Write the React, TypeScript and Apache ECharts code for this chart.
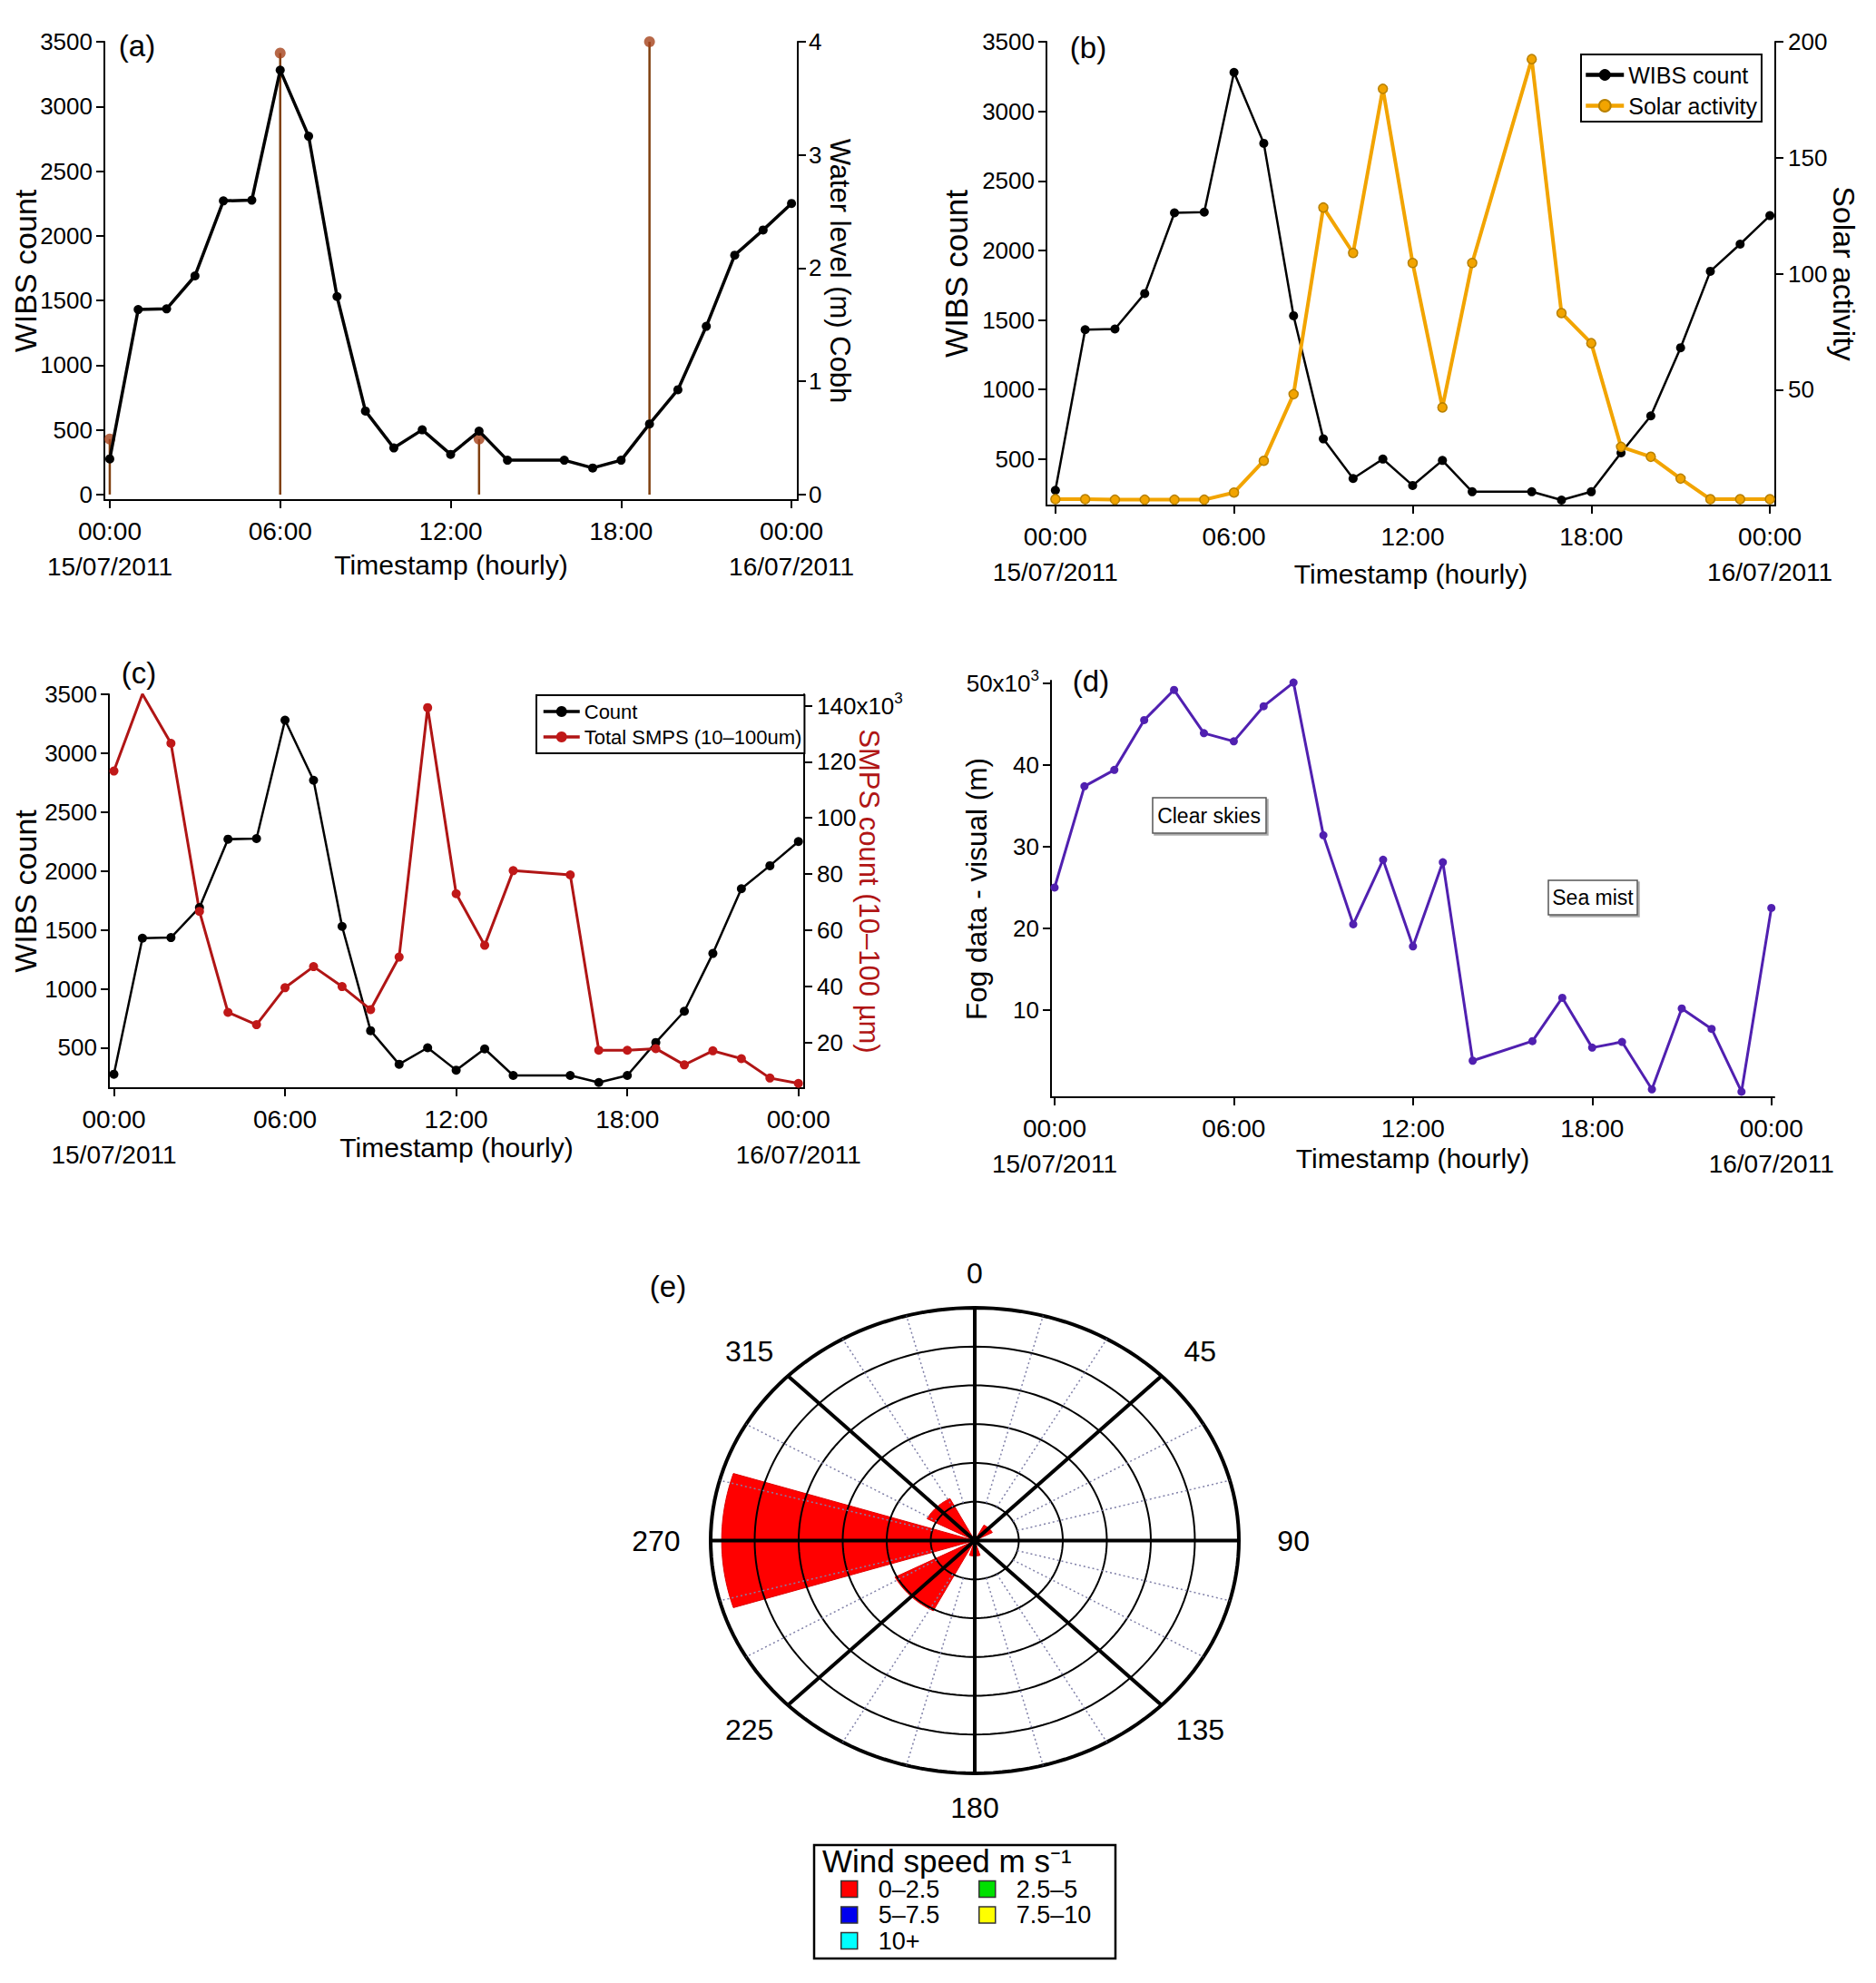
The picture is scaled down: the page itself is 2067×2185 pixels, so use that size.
import React, { useEffect, useRef } from "react";
import * as echarts from "echarts";

// hourly samples, 15/07/2011 00:00 -> 16/07/2011 00:00 (15:00 missing)
const HOURS = [0, 1, 2, 3, 4, 5, 6, 7, 8, 9, 10, 11, 12, 13, 14, 15, 16, 17, 18, 19, 20, 21, 22, 23, 24];
const X_TICKS = [0, 6, 12, 18, 24];
const X_TICK_LABELS = ["00:00\n15/07/2011", "06:00", "12:00", "18:00", "00:00\n16/07/2011"];

const WIBS_COUNT = [275, 1430, 1435, 1690, 2270, 2275, 3280, 2770, 1530, 645, 360, 500, 310, 490, 265, null, 265, 205, 265, 545, 810, 1300, 1850, 2045, 2250];
const WATER_HOURS = [0, 6, 13, 19];
const WATER_LEVEL = [0.49, 3.9, 0.49, 4.0];
const SOLAR = [2.7, 2.7, 2.5, 2.5, 2.5, 2.5, 5.6, 19.3, 48, 128.5, 108.9, 179.7, 104.6, 42.3, 104.6, null, 192.5, 83, 70, 25.3, 21, 11.6, 2.7, 2.7, 2.7];
const SMPS_K = [116.7, 144.1, 126.6, 66.7, 30.7, 26.3, 39.5, 47.0, 39.9, 31.7, 50.4, 139.3, 73.0, 54.6, 81.2, null, 79.7, 17.2, 17.2, 17.8, 12.0, 17.0, 14.2, 7.3, 5.4];
const FOG_K = [25.0, 37.4, 39.4, 45.5, 49.2, 43.9, 42.9, 47.2, 50.1, 31.4, 20.5, 28.4, 17.8, 28.1, 3.8, null, 6.2, 11.5, 5.4, 6.1, 0.3, 10.2, 7.7, 0.0, 22.5];

const WIBS_TICKS_A = [0, 500, 1000, 1500, 2000, 2500, 3000, 3500];
const WIBS_TICKS = [500, 1000, 1500, 2000, 2500, 3000, 3500];
const WATER_TICKS = [0, 1, 2, 3, 4];
const SOLAR_TICKS = [50, 100, 150, 200];
const SMPS_TICKS = [20, 40, 60, 80, 100, 120, 140];
const FOG_TICKS = [10, 20, 30, 40, 50];

// wind rose: direction (deg) and frequency (ring units)
const WIND_DIRS = [0, 45, 90, 135, 180, 225, 270, 315];
const WIND_0_25 = [0, 0.45, 0, 0, 0.4, 2.04, 5.75, 1.22];
const SPEED_BINS = ["0–2.5", "2.5–5", "5–7.5", "7.5–10", "10+"];
const SPEED_COLORS = ["#ff0000", "#00e000", "#0000ee", "#ffff00", "#00ffff"];
const RINGS = [1, 2, 3, 4, 5, 6];
const SPOKES = [0, 15, 30, 45, 60, 75, 90, 105, 120, 135, 150, 165, 180, 195, 210, 225, 240, 255, 270, 285, 300, 315, 330, 345];

const TICKF = "'Liberation Sans', Arial, sans-serif";
const REG = "'Liberation Sans', Arial, sans-serif";

const pairs = (xs: number[], ys: (number | null)[]) =>
  xs.map((x, i) => [x, ys[i]]).filter((p) => p[1] !== null);

const toXY = (deg: number, r: number) => [
  r * Math.sin((deg * Math.PI) / 180),
  r * Math.cos((deg * Math.PI) / 180),
];

const xAxisFor = (gridIndex: number, min: number, max: number, nameGap: number) => ({
  type: "value",
  gridIndex,
  min,
  max,
  axisLine: { show: true, onZero: false, lineStyle: { color: "#000", width: 2 } },
  axisTick: { show: true, length: 9, customValues: X_TICKS, lineStyle: { color: "#000", width: 2 } },
  axisLabel: {
    customValues: X_TICKS,
    formatter: (v: number) => X_TICK_LABELS[X_TICKS.indexOf(Math.round(v))],
    color: "#000",
    fontFamily: TICKF,
    fontSize: 28,
    lineHeight: 39,
    margin: 15,
  },
  splitLine: { show: false },
  name: "Timestamp (hourly)",
  nameLocation: "middle",
  nameGap,
  nameMoveOverlap: false,
  nameTextStyle: { fontFamily: REG, fontSize: 30, color: "#000" },
});

const yAxisFor = (
  gridIndex: number,
  position: string,
  min: number,
  max: number,
  ticks: number[],
  name: string,
  nameGap: number,
  nameStyle: any,
  label: any = {}
) => ({
  type: "value",
  gridIndex,
  position,
  min,
  max,
  axisLine: { show: true, onZero: false, lineStyle: { color: "#000", width: 2 } },
  axisTick: { show: true, length: 9, customValues: ticks, lineStyle: { color: "#000", width: 2 } },
  axisLabel: {
    customValues: ticks,
    formatter: (v: number) => String(v),
    color: "#000",
    fontFamily: TICKF,
    fontSize: 26,
    margin: 13,
    ...label,
  },
  splitLine: { show: false },
  name,
  nameLocation: "middle",
  nameGap,
  nameMoveOverlap: false,
  nameRotate: position === "right" ? -90 : 90,
  nameTextStyle: { fontFamily: REG, color: "#000", ...nameStyle },
});

const supLabel = (top: number) => ({
  formatter: (v: number) => (v === top ? `{b|${v}x10}{s|3}` : String(v)),
  rich: {
    b: { fontFamily: TICKF, fontSize: 26, color: "#000" },
    s: { fontFamily: TICKF, fontSize: 17, color: "#000", padding: [0, 0, 16, 0] },
  },
});

const App = () => {
  const chartRef = useRef<HTMLDivElement>(null);

  useEffect(() => {
    if (!chartRef.current) return;
    document.body.style.margin = "0";
    const chart = echarts.init(chartRef.current, null, { renderer: "svg" });

    const lineSeries = (name: string, xi: number, yi: number, data: any[], color: string, width: number, extra: any = {}) => ({
      name,
      type: "line",
      xAxisIndex: xi,
      yAxisIndex: yi,
      data,
      symbol: "circle",
      symbolSize: 10,
      lineStyle: { color, width },
      itemStyle: { color },
      z: 3,
      ...extra,
    });

    const petalSeries = SPEED_BINS.map((bin, k) => ({
      name: bin,
      type: "custom",
      xAxisIndex: 4,
      yAxisIndex: 7,
      itemStyle: { color: SPEED_COLORS[k] },
      z: 1,
      data: k === 0 ? WIND_DIRS.map((d, i) => [d, WIND_0_25[i]]) : [],
      renderItem: (params: any, api: any) => {
        const dir = api.value(0);
        const r = api.value(1);
        if (!r) return null;
        const pts = [api.coord([0, 0])];
        for (let d = dir - 17.5; d <= dir + 17.51; d += 1.75) pts.push(api.coord(toXY(d, r)));
        return {
          type: "polygon",
          shape: { points: pts },
          style: { fill: SPEED_COLORS[k], stroke: "#e00000", lineWidth: 1 },
        };
      },
    }));

    const windLegend = (data: string[], left: number) => ({
      data,
      orient: "vertical",
      left,
      top: 2068,
      padding: 0,
      icon: "rect",
      itemWidth: 18,
      itemHeight: 18,
      itemGap: 1.5,
      selectedMode: false,
      itemStyle: { borderColor: "#333", borderWidth: 1.5 },
      textStyle: { fontFamily: REG, fontSize: 27, color: "#000", padding: [0, 0, 0, 18] },
    });

    const option: any = {
      animation: false,
      textStyle: { fontFamily: REG },
      grid: [
        { left: 115, top: 46, width: 764, height: 505, outerBoundsMode: "none" },
        { left: 1153, top: 46, width: 803, height: 511, outerBoundsMode: "none" },
        { left: 120, top: 765, width: 766, height: 434, outerBoundsMode: "none" },
        { left: 1158, top: 750, width: 797, height: 459, outerBoundsMode: "none" },
        { left: 783, top: 1441, width: 582, height: 513, outerBoundsMode: "none" },
      ],
      xAxis: [
        xAxisFor(0, -0.19, 24.22, 56),
        xAxisFor(1, -0.3, 24.18, 60),
        xAxisFor(2, -0.175, 24.2, 50),
        xAxisFor(3, -0.12, 24.1, 52),
        { type: "value", gridIndex: 4, min: -6, max: 6, show: false },
      ],
      yAxis: [
        yAxisFor(0, "left", -43, 3500, WIBS_TICKS_A, "WIBS count", 70, { fontSize: 34 }),
        yAxisFor(0, "right", -0.049, 4, WATER_TICKS, "Water level (m) Cobh", 31, { fontSize: 31 }, { margin: 12 }),
        yAxisFor(1, "left", 166, 3500, WIBS_TICKS, "WIBS count", 82, { fontSize: 35 }),
        yAxisFor(1, "right", 0, 200, SOLAR_TICKS, "Solar activity", 59, { fontSize: 34 }, { margin: 14 }),
        yAxisFor(2, "left", 157, 3500, WIBS_TICKS, "WIBS count", 75, { fontSize: 34 }),
        yAxisFor(2, "right", 3.7, 144.05, SMPS_TICKS, "SMPS count (10–100 µm)", 56, { fontSize: 31, color: "#b01515" }, { margin: 14, ...supLabel(140) }),
        yAxisFor(3, "left", -0.67, 50.33, FOG_TICKS, "Fog data - visual (m)", 66, { fontSize: 31.5 }, supLabel(50)),
        { type: "value", gridIndex: 4, min: -6, max: 6, show: false },
      ],
      legend: [
        {
          data: ["WIBS count", "Solar activity"],
          orient: "vertical",
          left: 1742,
          top: 60,
          padding: [10, 5, 5, 3],
          itemWidth: 42,
          itemHeight: 16,
          itemGap: 9,
          backgroundColor: "#fff",
          borderColor: "#000",
          borderWidth: 2,
          selectedMode: false,
          lineStyle: { width: 4.5 },
          textStyle: { fontFamily: REG, fontSize: 25, lineHeight: 25, color: "#000" },
        },
        {
          data: ["Count", "Total SMPS (10–100um)"],
          orient: "vertical",
          left: 591,
          top: 766,
          padding: [7, 3, 7, 6],
          itemWidth: 40,
          itemHeight: 15,
          itemGap: 6,
          backgroundColor: "#fff",
          borderColor: "#000",
          borderWidth: 2,
          selectedMode: false,
          lineStyle: { width: 3.5 },
          textStyle: { fontFamily: REG, fontSize: 22, lineHeight: 22, color: "#000" },
        },
        windLegend(["0–2.5", "5–7.5", "10+"], 926),
        windLegend(["2.5–5", "7.5–10"], 1078),
      ],
      graphic: [
        { type: "text", x: 151, y: 50, style: { text: "(a)", fontFamily: REG, fontSize: 33, fill: "#000", align: "center", verticalAlign: "middle" } },
        { type: "text", x: 1199, y: 52, style: { text: "(b)", fontFamily: REG, fontSize: 33, fill: "#000", align: "center", verticalAlign: "middle" } },
        { type: "text", x: 153, y: 741, style: { text: "(c)", fontFamily: REG, fontSize: 33, fill: "#000", align: "center", verticalAlign: "middle" } },
        { type: "text", x: 1202, y: 750, style: { text: "(d)", fontFamily: REG, fontSize: 33, fill: "#000", align: "center", verticalAlign: "middle" } },
        { type: "text", x: 736, y: 1417, style: { text: "(e)", fontFamily: REG, fontSize: 33, fill: "#000", align: "center", verticalAlign: "middle" } },
        {
          type: "group",
          children: [
            { type: "rect", shape: { x: 1270, y: 879, width: 125, height: 39 }, style: { fill: "#fff", stroke: "#555", lineWidth: 1.5, shadowColor: "#aaa", shadowOffsetX: 2, shadowOffsetY: 2 } },
            { type: "text", x: 1332, y: 899, style: { text: "Clear skies", fontFamily: REG, fontSize: 23, fill: "#000", align: "center", verticalAlign: "middle" } },
            { type: "rect", shape: { x: 1706, y: 970, width: 98, height: 38 }, style: { fill: "#fff", stroke: "#555", lineWidth: 1.5, shadowColor: "#aaa", shadowOffsetX: 2, shadowOffsetY: 2 } },
            { type: "text", x: 1755, y: 989, style: { text: "Sea mist", fontFamily: REG, fontSize: 23, fill: "#000", align: "center", verticalAlign: "middle" } },
          ],
        },
        { type: "rect", z: -1, shape: { x: 897, y: 2033, width: 332, height: 125 }, style: { fill: "transparent", stroke: "#000", lineWidth: 2.5 } },
        { type: "text", x: 906, y: 2050, style: { text: "Wind speed m s⁻¹", fontFamily: REG, fontSize: 35, lineHeight: 30, fill: "#000", align: "left", verticalAlign: "middle" } },
      ],
      series: [
        // (a)
        {
          name: "Water level",
          type: "bar",
          xAxisIndex: 0,
          yAxisIndex: 1,
          barWidth: 2.5,
          data: pairs(WATER_HOURS, WATER_LEVEL),
          itemStyle: { color: "#80400f" },
          z: 2,
        },
        {
          name: "Water level top",
          type: "scatter",
          xAxisIndex: 0,
          yAxisIndex: 1,
          symbolSize: 12,
          data: pairs(WATER_HOURS, WATER_LEVEL),
          itemStyle: { color: "#a5421a" },
          z: 2,
        },
        lineSeries("WIBS (a)", 0, 0, pairs(HOURS, WIBS_COUNT), "#000", 3.5),
        // (b)
        lineSeries("WIBS count", 1, 2, pairs(HOURS, WIBS_COUNT), "#000", 2.5),
        lineSeries("Solar activity", 1, 3, pairs(HOURS, SOLAR), "#f2a400", 4, {
          itemStyle: { color: "#f2a400", borderColor: "#b88000", borderWidth: 1.5 },
        }),
        // (c)
        lineSeries("Count", 2, 4, pairs(HOURS, WIBS_COUNT), "#000", 2.5),
        lineSeries("Total SMPS (10–100um)", 2, 5, pairs(HOURS, SMPS_K), "#b01515", 3, {
          itemStyle: { color: "#c01818" },
        }),
        // (d)
        lineSeries("Fog data", 3, 6, pairs(HOURS, FOG_K), "#5020b0", 3, { symbolSize: 9 }),
        // (e) wind rose
        ...petalSeries,
        {
          name: "rings",
          type: "custom",
          xAxisIndex: 4,
          yAxisIndex: 7,
          z: 4,
          data: RINGS.map((r) => [r, 0]),
          renderItem: (params: any, api: any) => {
            const r = api.value(0);
            const pts: number[][] = [];
            for (let d = 0; d <= 360; d += 2) pts.push(api.coord(toXY(d, r)));
            return {
              type: "polyline",
              shape: { points: pts },
              style: { stroke: "#000", lineWidth: r === 6 ? 4 : 2, fill: null },
            };
          },
        },
        {
          name: "spokes",
          type: "custom",
          xAxisIndex: 4,
          yAxisIndex: 7,
          z: 4,
          data: SPOKES.map((a) => [a, 0]),
          renderItem: (params: any, api: any) => {
            const a = api.value(0);
            if (a % 45 === 0) {
              const p0 = api.coord([0, 0]);
              const p1 = api.coord(toXY(a, 6));
              const s = Math.sin((a * Math.PI) / 180);
              const c = Math.cos((a * Math.PI) / 180);
              const pl = api.coord([s * 7.24, c * 6.89]);
              return {
                type: "group",
                children: [
                  { type: "line", shape: { x1: p0[0], y1: p0[1], x2: p1[0], y2: p1[1] }, style: { stroke: "#000", lineWidth: 4 } },
                  {
                    type: "text",
                    style: { text: String(a), x: pl[0], y: pl[1], fill: "#000", fontSize: 32, fontFamily: REG, align: "center", verticalAlign: "middle" },
                  },
                ],
              };
            }
            const q0 = api.coord(toXY(a, 1));
            const q1 = api.coord(toXY(a, 6));
            return {
              type: "line",
              shape: { x1: q0[0], y1: q0[1], x2: q1[0], y2: q1[1] },
              style: { stroke: "#8080a8", lineWidth: 1.5, lineDash: [2, 3] },
            };
          },
        },
      ],
    };

    chart.setOption(option);
    return () => chart.dispose();
  }, []);

  return <div ref={chartRef} style={{ width: 2067, height: 2185 }} />;
};

export default App;
